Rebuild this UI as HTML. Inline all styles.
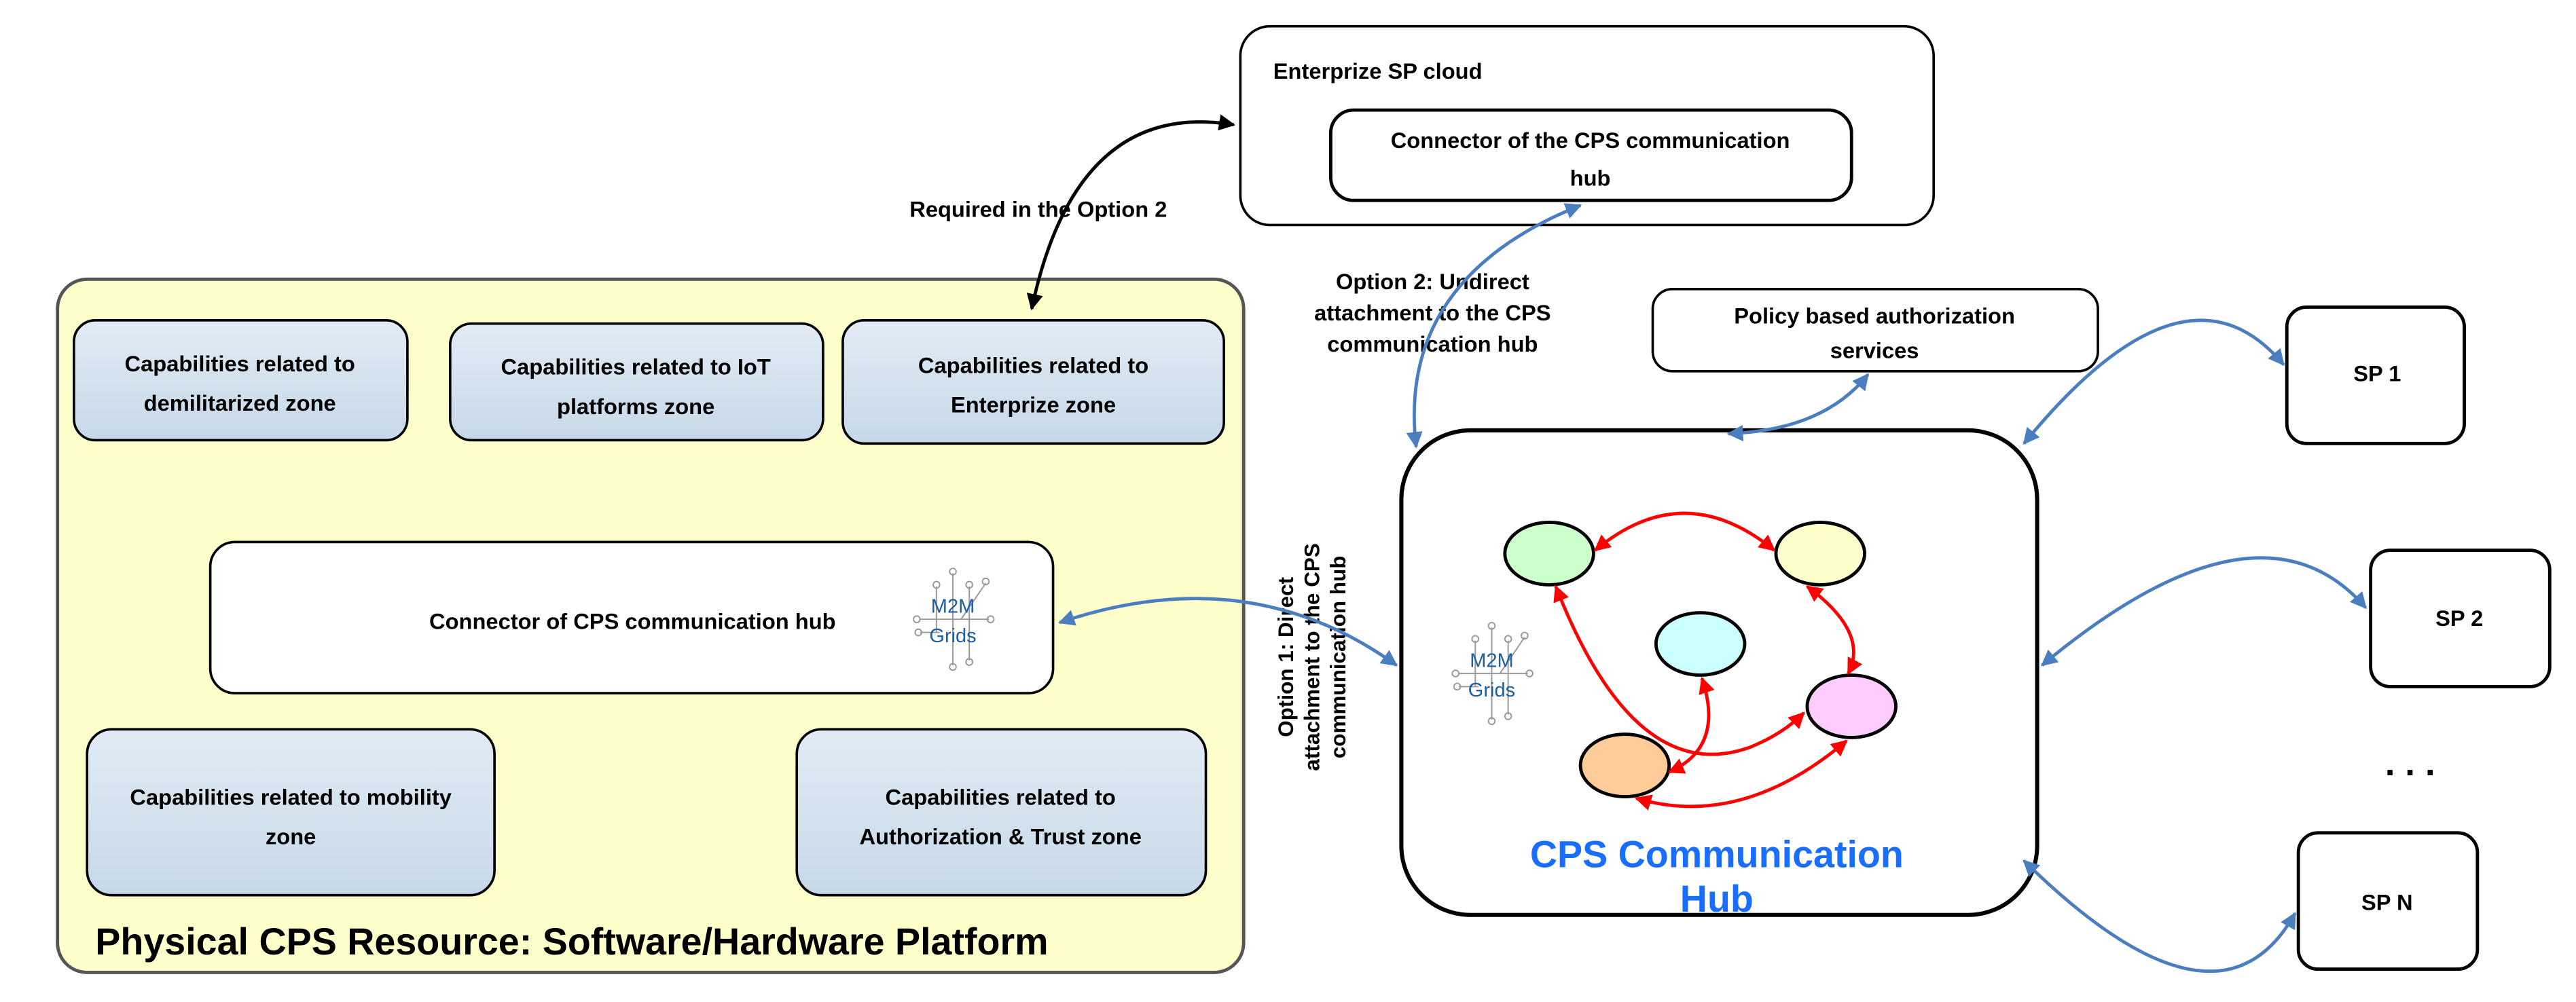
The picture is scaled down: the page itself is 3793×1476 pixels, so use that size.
<!DOCTYPE html>
<html><head><meta charset="utf-8"><style>
html,body{margin:0;padding:0;background:#fff;}
svg{display:block;}
text{font-family:"Liberation Sans",sans-serif;}
</style></head><body>
<svg width="3793" height="1476" viewBox="0 0 1568 610" preserveAspectRatio="none" xmlns="http://www.w3.org/2000/svg">
<defs>
<linearGradient id="g" x1="0" y1="0" x2="0" y2="1"><stop offset="0" stop-color="#e2ebf4"/><stop offset="1" stop-color="#c6d8e8"/></linearGradient>
<marker id="ab" viewBox="0 0 10 10" refX="9" refY="5" markerWidth="5" markerHeight="5" orient="auto-start-reverse"><path d="M0,0 L10,5 L0,10 z" fill="#4a7ebf"/></marker>
<marker id="ak" viewBox="0 0 10 10" refX="9" refY="5" markerWidth="5" markerHeight="5" orient="auto-start-reverse"><path d="M0,0 L10,5 L0,10 z" fill="#000"/></marker>
<marker id="ar" viewBox="0 0 10 10" refX="9" refY="5" markerWidth="5" markerHeight="5" orient="auto-start-reverse"><path d="M0,0 L10,5 L0,10 z" fill="#f00"/></marker>
<g id="m2m" stroke="#999" stroke-width="0.8" fill="none">
<line x1="-20" y1="0" x2="22" y2="0"/><line x1="0" y1="-28" x2="0" y2="28"/><line x1="-10" y1="-20" x2="-10" y2="8"/><line x1="10" y1="-20" x2="10" y2="25"/><line x1="5" y1="0" x2="20" y2="-22"/><line x1="-20" y1="8" x2="-8" y2="8"/>
<circle cx="0" cy="-29" r="2"/><circle cx="0" cy="29" r="2"/><circle cx="-10" cy="-21" r="2"/><circle cx="10" cy="-21" r="2"/><circle cx="-22" cy="0" r="2"/><circle cx="23" cy="0" r="2"/><circle cx="20" cy="-23" r="2"/><circle cx="10" cy="26" r="2"/><circle cx="-21" cy="8" r="2"/>
</g>
</defs>

<rect x="35" y="170" width="722" height="422" rx="18" fill="#ffffcc" stroke="#555" stroke-width="2"/>
<text x="58" y="581" font-size="23" font-weight="bold">Physical CPS Resource: Software/Hardware Platform</text>

<g font-size="13.5" font-weight="bold" text-anchor="middle">
<rect x="45" y="195" width="203" height="73" rx="13" fill="url(#g)" stroke="#000" stroke-width="1.5"/>
<text x="146" y="226">Capabilities related to</text><text x="146" y="250">demilitarized zone</text>
<rect x="274" y="197" width="227" height="71" rx="13" fill="url(#g)" stroke="#000" stroke-width="1.5"/>
<text x="387" y="228">Capabilities related to IoT</text><text x="387" y="252">platforms zone</text>
<rect x="513" y="195" width="232" height="75" rx="13" fill="url(#g)" stroke="#000" stroke-width="1.5"/>
<text x="629" y="227">Capabilities related to</text><text x="629" y="251">Enterprize zone</text>
<rect x="128" y="330" width="513" height="92" rx="15" fill="#fff" stroke="#000" stroke-width="1.5"/>
<text x="385" y="383">Connector of CPS communication hub</text>
<rect x="53" y="444" width="248" height="101" rx="15" fill="url(#g)" stroke="#000" stroke-width="1.5"/>
<text x="177" y="490">Capabilities related to mobility</text><text x="177" y="514">zone</text>
<rect x="485" y="444" width="249" height="101" rx="15" fill="url(#g)" stroke="#000" stroke-width="1.5"/>
<text x="609" y="490">Capabilities related to</text><text x="609" y="514">Authorization &amp; Trust zone</text>

<rect x="755" y="16" width="422" height="121" rx="18" fill="#fff" stroke="#000" stroke-width="1.5"/>
<text x="775" y="48" text-anchor="start">Enterprize SP cloud</text>
<rect x="810" y="67" width="317" height="55" rx="14" fill="#fff" stroke="#000" stroke-width="2"/>
<text x="968" y="90">Connector of the CPS communication</text><text x="968" y="113">hub</text>
<text x="632" y="132">Required in the Option 2</text>

<text x="872" y="176">Option 2: Undirect</text><text x="872" y="195">attachment to the CPS</text><text x="872" y="214">communication hub</text>

<rect x="1006" y="176" width="271" height="50" rx="12" fill="#fff" stroke="#000" stroke-width="1.5"/>
<text x="1141" y="197">Policy based authorization</text><text x="1141" y="218">services</text>

<rect x="1392" y="187" width="108" height="83" rx="12" fill="#fff" stroke="#000" stroke-width="2"/>
<text x="1447" y="232">SP  1</text>
<rect x="1443" y="335" width="109" height="83" rx="12" fill="#fff" stroke="#000" stroke-width="2"/>
<text x="1497" y="381">SP 2</text>
<rect x="1399" y="507" width="109" height="83" rx="12" fill="#fff" stroke="#000" stroke-width="2"/>
<text x="1453" y="554">SP N</text>
<text x="1467" y="472" font-size="22">. . .</text>
</g>

<rect x="853" y="262" width="387" height="295" rx="42" fill="#fff" stroke="#000" stroke-width="2.5"/>
<text x="1045" y="528" font-size="23" font-weight="bold" fill="#1a6eff" text-anchor="middle">CPS Communication</text>
<text x="1045" y="555" font-size="23" font-weight="bold" fill="#1a6eff" text-anchor="middle">Hub</text>

<g transform="translate(580,377)"><use href="#m2m"/><text x="0" y="-4" font-size="12" fill="#1f5fa0" text-anchor="middle">M2M</text><text x="0" y="14" font-size="12" fill="#1f5fa0" text-anchor="middle">Grids</text></g>
<g transform="translate(908,410)"><use href="#m2m"/><text x="0" y="-4" font-size="12" fill="#1f5fa0" text-anchor="middle">M2M</text><text x="0" y="14" font-size="12" fill="#1f5fa0" text-anchor="middle">Grids</text></g>

<g font-size="13" font-weight="bold" text-anchor="middle" transform="translate(800,400) rotate(-90)">
<text x="0" y="-13">Option 1: Direct</text><text x="0" y="3">attachment to the CPS</text><text x="0" y="19">communication hub</text>
</g>

<g stroke="#000" stroke-width="2">
<ellipse cx="943" cy="337" rx="27" ry="19" fill="#ccffcc"/>
<ellipse cx="1108" cy="337" rx="27" ry="19" fill="#ffffcc"/>
<ellipse cx="1035" cy="392" rx="27" ry="19" fill="#ccffff"/>
<ellipse cx="1127" cy="430" rx="27" ry="19" fill="#ffccff"/>
<ellipse cx="989" cy="466" rx="27" ry="19" fill="#ffcc99"/>
</g>

<g stroke="#f00" stroke-width="2" fill="none" marker-start="url(#ar)" marker-end="url(#ar)">
<path d="M971,335 Q1025,290 1080,335"/>
<path d="M1100,357 Q1138,385 1125,410"/>
<path d="M947,357 Q995,480 1065,455 Q1085,447 1098,434"/>
<path d="M1036,413 Q1050,455 1016,470"/>
<path d="M996,486 Q1060,505 1124,451"/>
</g>

<g stroke="#4a7ebf" stroke-width="2" fill="none" marker-start="url(#ab)" marker-end="url(#ab)">
<path d="M645,379 Q760,340 850,405"/>
<path d="M962,125 Q850,170 862,272"/>
<path d="M1137,228 Q1110,262 1052,264"/>
<path d="M1390,222 Q1330,150 1232,270"/>
<path d="M1440,370 Q1375,295 1243,405"/>
<path d="M1397,556 Q1350,640 1232,524"/>
</g>
<path d="M751,76 Q655,60 628,188" stroke="#000" stroke-width="2" fill="none" marker-start="url(#ak)" marker-end="url(#ak)"/>
</svg>
</body></html>
